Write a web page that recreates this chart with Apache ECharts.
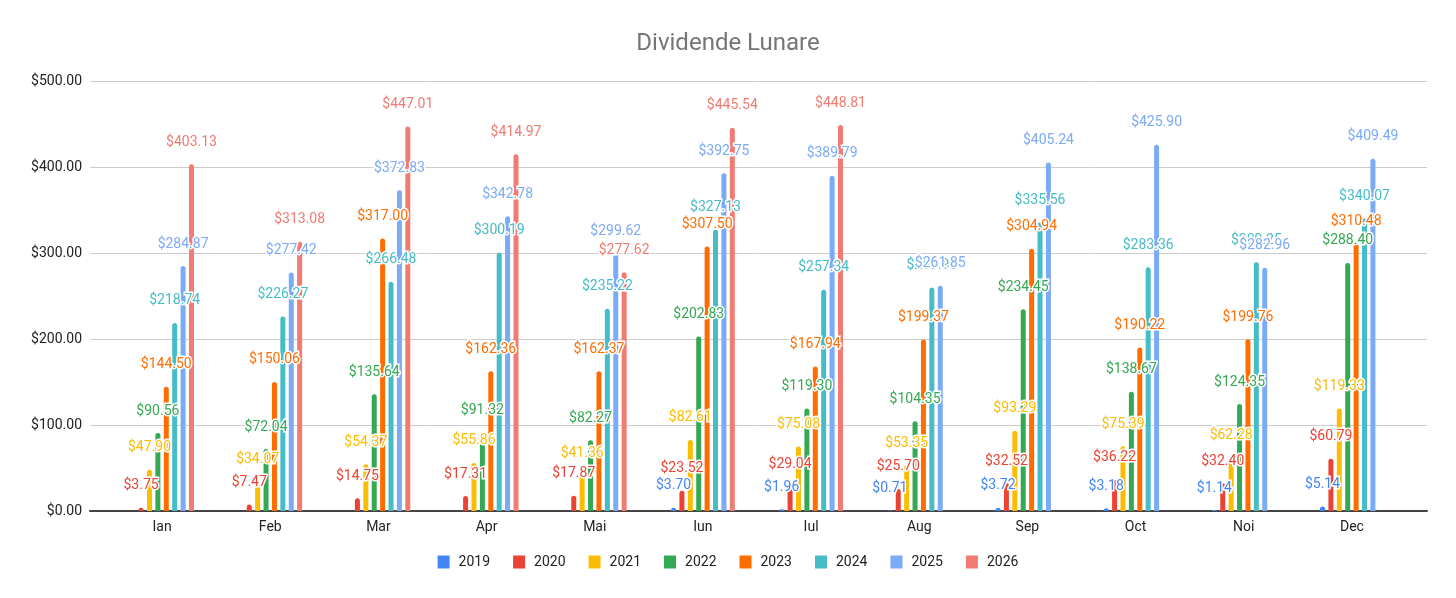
<!DOCTYPE html>
<html>
<head>
<meta charset="utf-8">
<script src="https://cdn.jsdelivr.net/npm/echarts@6/dist/echarts.min.js"></script>
<style>
  html, body { margin: 0; padding: 0; background: #fff; }
  #main { width: 1456px; height: 598px; }
</style>
</head>
<body>
<div id="main"></div>
<script>
var months = ['Ian', 'Feb', 'Mar', 'Apr', 'Mai', 'Iun', 'Iul', 'Aug', 'Sep', 'Oct', 'Noi', 'Dec'];
var years = ['2019', '2020', '2021', '2022', '2023', '2024', '2025', '2026'];
var yTicks = [0, 100, 200, 300, 400, 500];

var d2019 = [null, null, null, null, null, 3.70, 1.96, 0.71, 3.72, 3.18, 1.14, 5.14];
var d2020 = [3.75, 7.47, 14.75, 17.31, 17.87, 23.52, 29.04, 25.70, 32.52, 36.22, 32.40, 60.79];
var d2021 = [47.90, 34.07, 54.37, 55.86, 41.36, 82.61, 75.08, 53.35, 93.29, 75.39, 62.28, 119.33];
var d2022 = [90.56, 72.04, 135.64, 91.32, 82.27, 202.83, 119.30, 104.35, 234.45, 138.67, 124.35, 288.40];
var d2023 = [144.50, 150.06, 317.00, 162.36, 162.37, 307.50, 167.94, 199.37, 304.94, 190.22, 199.76, 310.48];
var d2024 = [218.74, 226.27, 266.48, 300.19, 235.22, 327.13, 257.34, 259.90, 335.56, 283.36, 289.25, 340.07];
var d2025 = [284.87, 277.42, 372.83, 342.78, 299.62, 392.75, 389.79, 261.85, 405.24, 425.90, 282.96, 409.49];
var d2026 = [403.13, 313.08, 447.01, 414.97, 277.62, 445.54, 448.81, null, null, null, null, null];

var values = [d2019, d2020, d2021, d2022, d2023, d2024, d2025, d2026];
var colors = ['#4285F4', '#EA4335', '#FBBC04', '#34A853', '#FF6D01', '#46BDC6', '#7BAAF7', '#F07B72'];

var chartDom = document.getElementById('main');
var myChart = echarts.init(chartDom);
var option;

var series = years.map(function (y, i) {
    return {
        name: y,
        type: 'bar',
        xAxisIndex: 1,
        yAxisIndex: 1,
        barWidth: 5,
        barGap: '68%',
        data: values[i],
        itemStyle: { color: colors[i], borderRadius: [3, 3, 0, 0] },
        label: {
            show: true,
            position: 'top',
            distance: 15,
            color: colors[i],
            fontSize: 14,
            fontFamily: 'Roboto',
            textBorderColor: '#fff',
            textBorderWidth: 3,
            formatter: function (p) { return '$' + p.value.toFixed(2); }
        }
    };
});

option = {
    animation: false,
    color: colors,
    textStyle: { fontFamily: 'Roboto' },
    title: {
        text: 'Dividende Lunare',
        left: 'center',
        top: 27,
        textStyle: { color: '#757575', fontSize: 24, fontWeight: 'normal', fontFamily: 'Roboto' }
    },
    legend: {
        bottom: 24,
        left: 'center',
        icon: 'rect',
        itemWidth: 12,
        itemHeight: 13,
        itemGap: 23,
        textStyle: { color: '#222', fontSize: 14, padding: [0, 0, 0, 4] },
        data: years
    },
    grid: [
        { left: 90, right: 29, top: 81, bottom: 87 },
        { left: 108, right: 50, top: 81, bottom: 87 }
    ],
    xAxis: [
        {
            gridIndex: 0,
            type: 'category',
            data: [''],
            axisLine: { show: true, lineStyle: { color: '#444', width: 2 } },
            axisTick: { show: false },
            axisLabel: { show: false }
        },
        {
            gridIndex: 1,
            type: 'category',
            data: months,
            axisLine: { show: false },
            axisTick: { show: false },
            axisLabel: { color: '#222', fontSize: 14, margin: 9 }
        }
    ],
    yAxis: [
        {
            gridIndex: 0,
            type: 'value',
            min: yTicks[0],
            max: yTicks[yTicks.length - 1],
            interval: 100,
            axisLine: { show: false },
            axisTick: { show: false },
            axisLabel: {
                color: '#222',
                fontSize: 14,
                margin: 8,
                formatter: function (v) { return '$' + v.toFixed(2); }
            },
            splitLine: { lineStyle: { color: '#cccccc', width: 1 } }
        },
        {
            gridIndex: 1,
            type: 'value',
            min: yTicks[0],
            max: yTicks[yTicks.length - 1],
            interval: 100,
            show: false,
            splitLine: { show: false }
        }
    ],
    series: series
};

option && myChart.setOption(option);
</script>
</body>
</html>
